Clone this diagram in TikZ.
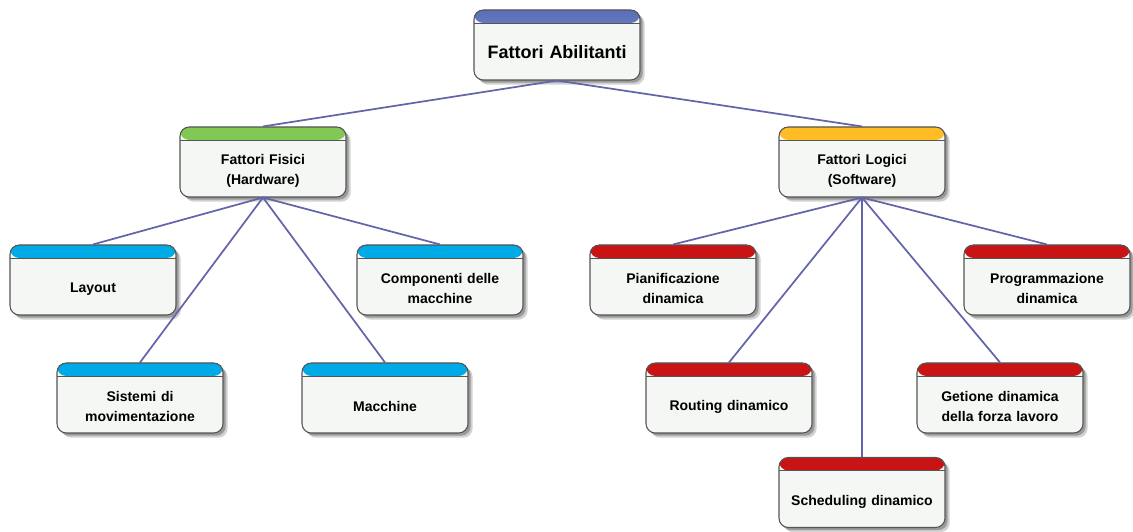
\documentclass[tikz,border=0pt]{standalone}
\usepackage{fontspec}
\setmainfont{Liberation Sans}
\usetikzlibrary{shadows}

\definecolor{boxfill}{RGB}{244, 247, 244}
\definecolor{boxline}{RGB}{85, 85, 85}
\definecolor{linkblue}{RGB}{100, 100, 170}
\definecolor{hdrblueA}{RGB}{90, 110, 185}
\definecolor{hdrblueB}{RGB}{145, 165, 220}
\definecolor{hdrgreen}{RGB}{130, 200, 85}
\definecolor{hdrorange}{RGB}{255, 188, 35}
\definecolor{hdrcyan}{RGB}{0, 170, 230}
\definecolor{hdrred}{RGB}{200, 20, 20}

\tikzset{
  % rounded box with a coloured band on top
  factor/.style={draw=boxline, line width=0.8pt, fill=boxfill, rounded corners=7pt,
    minimum width=124.5pt, minimum height=52.5pt, text width=118pt, align=center,
    inner sep=0pt, font=\fontsize{10.5}{15}\selectfont\bfseries,
    execute at begin node={\rule{0pt}{21pt}},
    drop shadow={shadow xshift=3.5pt, shadow yshift=-3.5pt, opacity=.18, fill=black},
    drop shadow={shadow xshift=2pt, shadow yshift=-2pt, opacity=.35, fill=black!80},
    path picture={
      \fill[#1] (path picture bounding box.north west) rectangle
        ([yshift=-9.75pt]path picture bounding box.north east);
      \draw[boxline, line width=0.6pt] ([yshift=-9.75pt]path picture bounding box.north west)
        -- ([yshift=-9.75pt]path picture bounding box.north east);
    }},
  rootbox/.style={factor=hdrblueA, font=\fontsize{13.5}{16}\selectfont\bfseries,
    path picture={
      \shade[top color=hdrblueA, bottom color=hdrblueB] (path picture bounding box.north west) rectangle
        ([yshift=-9.75pt]path picture bounding box.north east);
      \draw[boxline, line width=0.6pt] ([yshift=-9.75pt]path picture bounding box.north west)
        -- ([yshift=-9.75pt]path picture bounding box.north east);
    }},
  link/.style={draw=linkblue, line width=1.3pt}
}

\begin{document}
\begin{tikzpicture}[x=0.75pt, y=0.75pt]
  \useasboundingbox (0,0) rectangle (1133,532);

  % root
  \node[rootbox] (root) at (557, 487) {Fattori Abilitanti};

  % second level
  \node[factor=hdrgreen] (fisici) at (263, 370) {Fattori Fisici\\(Hardware)};
  \node[factor=hdrorange] (logici) at (862, 370) {Fattori Logici\\(Software)};

  % hardware side
  \node[factor=hdrcyan] (layout) at (93, 252) {Layout};
  \node[factor=hdrcyan] (compon) at (440, 252) {Componenti delle\\macchine};
  \node[factor=hdrcyan] (sistemi) at (140, 134) {Sistemi di\\movimentazione};
  \node[factor=hdrcyan] (macchine) at (385, 134) {Macchine};

  % software side
  \node[factor=hdrred] (pianif) at (673, 252) {Pianificazione\\dinamica};
  \node[factor=hdrred] (program) at (1047, 252) {Programmazione\\dinamica};
  \node[factor=hdrred] (routing) at (729, 134) {Routing dinamico};
  \node[factor=hdrred] (gestione) at (1000, 134) {Getione dinamica\\della forza lavoro};
  \node[factor=hdrred] (sched) at (862, 39.5) {Scheduling dinamico};

  % connectors
  \draw[link] (root.south) -- (fisici.north);
  \draw[link] (root.south) -- (logici.north);
  \foreach \c in {layout, compon, sistemi, macchine}
    \draw[link] (fisici.south) -- (\c.north);
  \foreach \c in {pianif, program, routing, gestione, sched}
    \draw[link] (logici.south) -- (\c.north);
\end{tikzpicture}
\end{document}
